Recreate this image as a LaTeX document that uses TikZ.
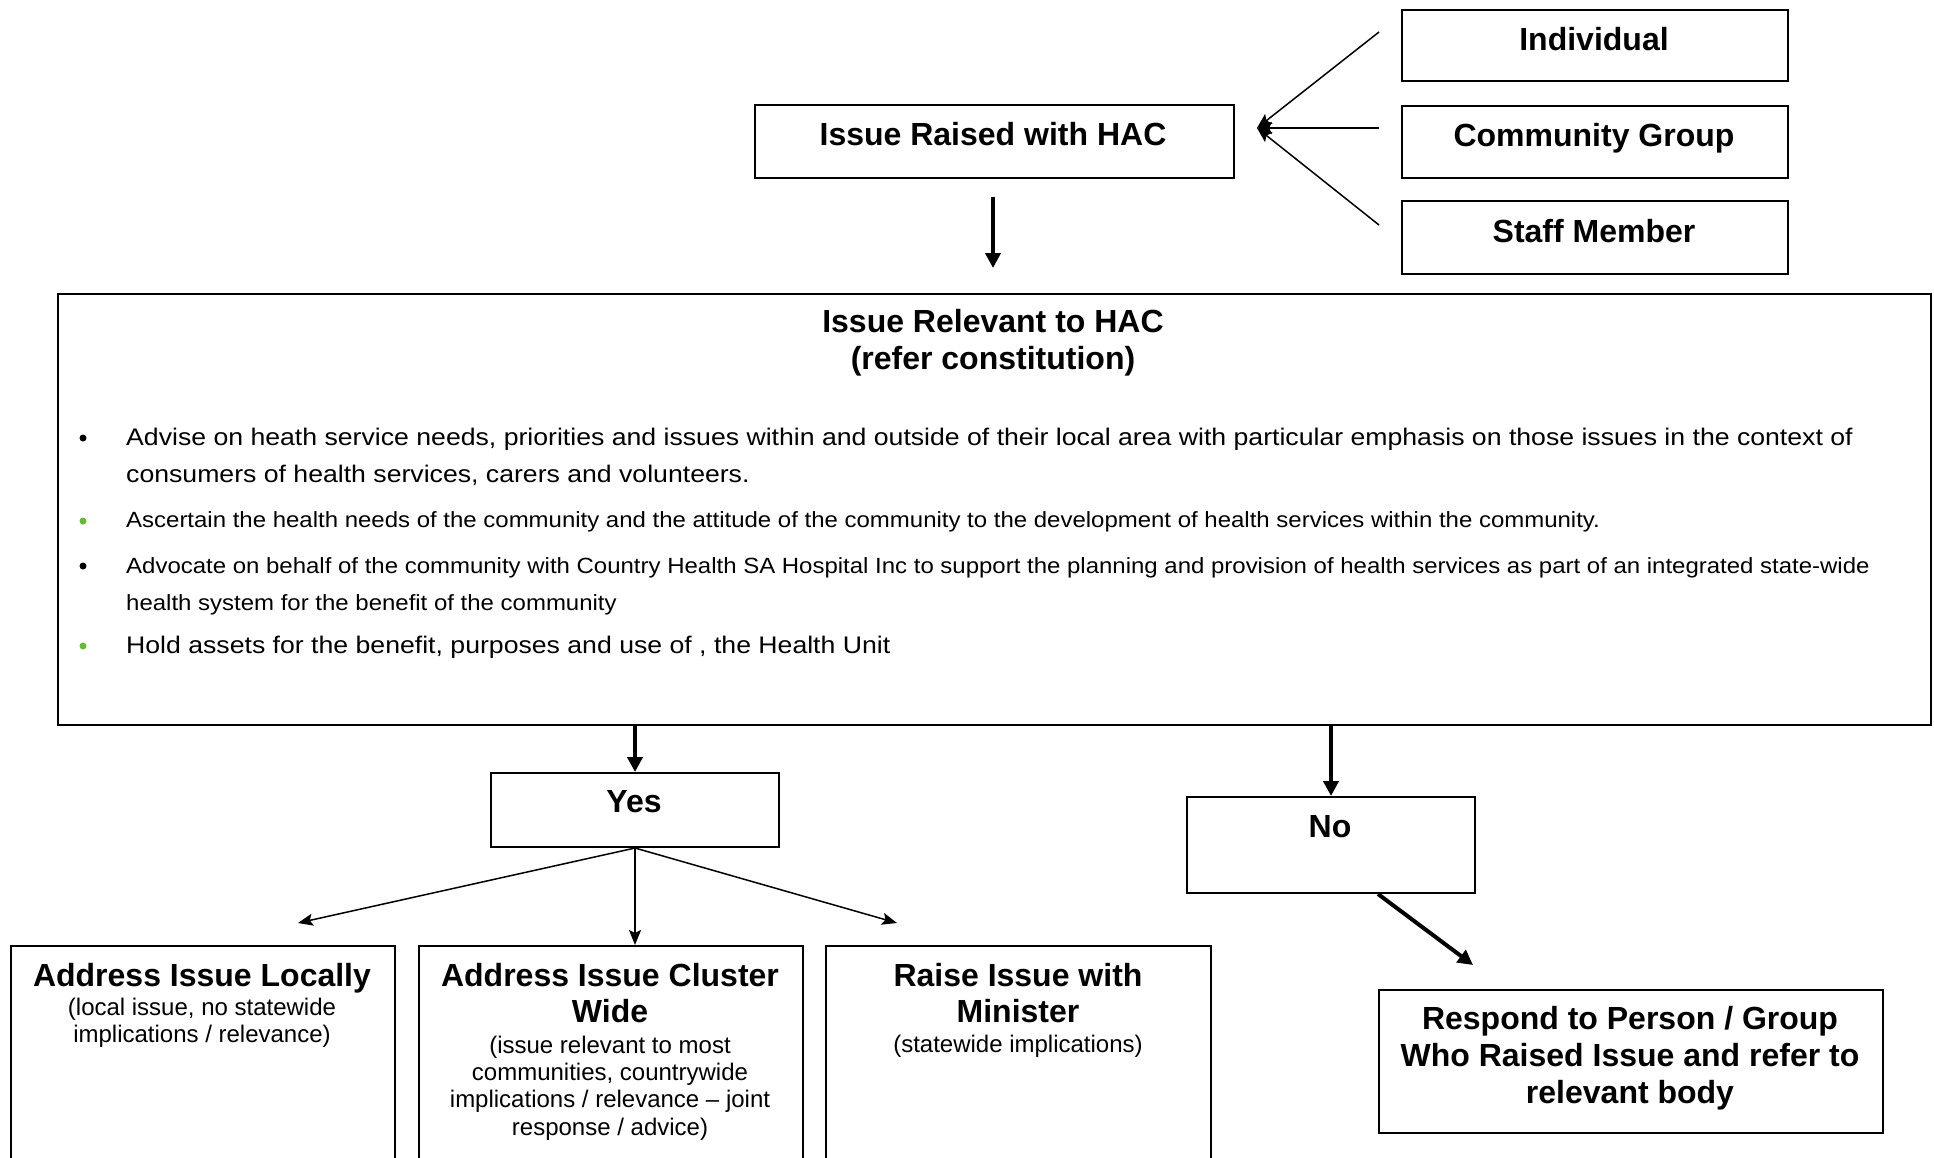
\documentclass[tikz,border=0pt]{standalone}
\usepackage{fontspec}
\setmainfont{Liberation Sans}
\newfontfamily\bulfontA[FakeStretch=1.11]{Liberation Sans}
\newfontfamily\bulfontB[FakeStretch=1.09]{Liberation Sans}
\usetikzlibrary{arrows.meta,calc}
\definecolor{bgreen}{RGB}{102,187,51}
\tikzset{
  box/.style={draw, line width=2pt, inner sep=0pt, anchor=north west},
  tbig/.style={font=\fontsize{32}{37}\selectfont\bfseries, anchor=base, inner sep=0pt},
  tsmall/.style={font=\fontsize{24}{27}\selectfont, anchor=base, inner sep=0pt},
  tbul/.style={font=\bulfontA\fontsize{24}{27}\selectfont, anchor=base west, inner sep=0pt},
  tbuls/.style={font=\bulfontB\fontsize{22}{27}\selectfont, anchor=base west, inner sep=0pt},
  bdot/.style={circle, fill=#1, inner sep=0pt, minimum size=7pt},
  thinarrow/.style={line width=1.5pt, -{Stealth[length=15pt,width=12pt,inset=3pt]}},
  thickarrow/.style={line width=4pt, -{Triangle[length=15pt,width=15pt]}},
}
\begin{document}
\begin{tikzpicture}[x=1pt,y=-1pt]
\useasboundingbox (0,0) rectangle (1934,1157);

% top row
\node[box, minimum width=479pt, minimum height=73pt] (raised) at (754,104) {};
\node[tbig] (raisedT) at (993,145) {Issue Raised with HAC};

\node[box, minimum width=386pt, minimum height=71pt] (ind) at (1401,9) {};
\node[tbig] (indT) at (1594,50) {Individual};
\node[box, minimum width=386pt, minimum height=72pt] (com) at (1401,105) {};
\node[tbig] (comT) at (1594,146) {Community Group};
\node[box, minimum width=386pt, minimum height=73pt] (staff) at (1401,200) {};
\node[tbig] (staffT) at (1594,242) {Staff Member};

\coordinate (s1) at (1379,32);
\coordinate (s2) at (1379,128);
\coordinate (s3) at (1379,225);
\coordinate (merge) at (1257,128);
\draw[thinarrow] (s1) -- (merge);
\draw[thinarrow] (s2) -- (merge);
\draw[thinarrow] (s3) -- (merge);

\coordinate (d0s) at (993,197);
\coordinate (d0e) at (993,268);
\draw[thickarrow] (d0s) -- (d0e);

% big box
\node[box, minimum width=1873pt, minimum height=431pt] (big) at (57,293) {};
\node[tbig] (bigT1) at (993,332) {Issue Relevant to HAC};
\node[tbig] (bigT2) at (993,369) {(refer constitution)};

\node[bdot=black] (b1) at (83,438) {};
\node[tbul] (l1a) at (126,445) {Advise on heath service needs, priorities and issues within and outside of their local area with particular emphasis on those issues in the context of};
\node[tbul] (l1b) at (126,482) {consumers of health services, carers and volunteers.};
\node[bdot=bgreen] (b2) at (83,521) {};
\node[tbuls] (l2a) at (126,527) {Ascertain the health needs of the community and the attitude of the community to the development of health services within the community.};
\node[bdot=black] (b3) at (83,566) {};
\node[tbuls] (l3a) at (126,573) {Advocate on behalf of the community with Country Health SA Hospital Inc to support the planning and provision of health services as part of an integrated state-wide};
\node[tbuls] (l3b) at (126,610) {health system for the benefit of the community};
\node[bdot=bgreen] (b4) at (83,646) {};
\node[tbul] (l4a) at (126,653) {Hold assets for the benefit, purposes and use of , the Health Unit};

% yes / no
\node[box, minimum width=288pt, minimum height=74pt] (yes) at (490,772) {};
\node[tbig] (yesT) at (634,812) {Yes};
\node[box, minimum width=288pt, minimum height=96pt] (no) at (1186,796) {};
\node[tbig] (noT) at (1330,837) {No};

\draw[thickarrow] (big.south -| yes.north) -- (yes.north);
\draw[thickarrow] (big.south -| no.north) -- (no.north);

% bottom boxes
\node[box, minimum width=384pt, minimum height=240pt] (loc) at (10,945) {};
\node[box, minimum width=384pt, minimum height=240pt] (clu) at (418,945) {};
\node[box, minimum width=385pt, minimum height=240pt] (min) at (825,945) {};

\coordinate (tl) at (298,923);
\coordinate (tr) at (897,923);
\draw[thinarrow] (yes.south) -- (tl);
\draw[thinarrow] (yes.south) -- (yes.south |- clu.north);
\draw[thinarrow] (yes.south) -- (tr);

\node[tbig] (locT1) at (202,986) {Address Issue Locally};
\node[tsmall] (locT2) at (202,1015) {(local issue, no statewide};
\node[tsmall] (locT3) at (202,1042) {implications / relevance)};

\node[tbig] (cluT1) at (610,986) {Address Issue Cluster};
\node[tbig] (cluT2) at (610,1022) {Wide};
\node[tsmall] (cluT3) at (610,1053) {(issue relevant to most};
\node[tsmall] (cluT4) at (610,1080) {communities, countrywide};
\node[tsmall] (cluT5) at (610,1107) {implications / relevance – joint};
\node[tsmall] (cluT6) at (610,1135) {response / advice)};

\node[tbig] (minT1) at (1018,986) {Raise Issue with};
\node[tbig] (minT2) at (1018,1022) {Minister};
\node[tsmall] (minT3) at (1018,1052) {(statewide implications)};

% respond
\node[box, minimum width=504pt, minimum height=143pt] (resp) at (1378,989) {};
\node[tbig] (respT1) at (1630,1029) {Respond to Person / Group};
\node[tbig] (respT2) at (1630,1066) {Who Raised Issue and refer to};
\node[tbig] (respT3) at (1630,1103) {relevant body};

\coordinate (nr) at (1473,965);
\draw[thickarrow] ($(no.south west)+(192,0)$) -- (nr);
\end{tikzpicture}
\end{document}
